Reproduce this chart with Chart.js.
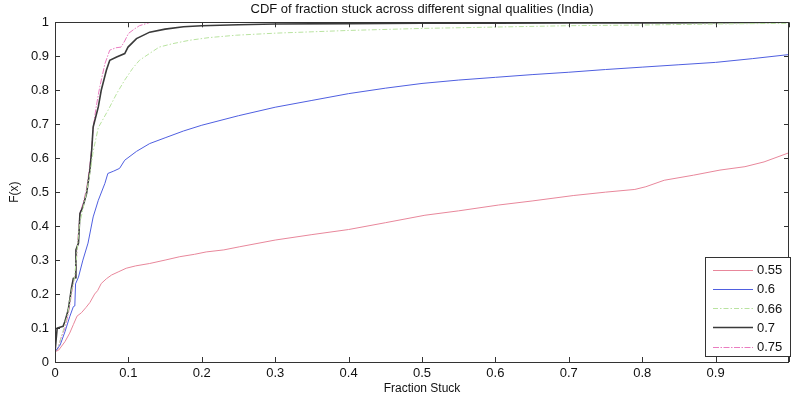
<!DOCTYPE html>
<html>
<head>
<meta charset="utf-8">
<script src="https://cdn.jsdelivr.net/npm/chart.js@4/dist/chart.umd.min.js"></script>
<style>
  html, body { margin: 0; padding: 0; background: #fff; overflow: hidden; }
  #wrap { width: 793px; height: 398px; }
</style>
</head>
<body>
<div id="wrap"><canvas id="cdf" width="793" height="398"></canvas></div>
<script>
// Empirical CDFs of the fraction of time stuck, one per signal-quality threshold
const seriesLabels = ['0.55', '0.6', '0.66', '0.7', '0.75'];

const x055 = [0, 0.005, 0.0136, 0.02, 0.025, 0.03, 0.036, 0.042, 0.0475, 0.054, 0.058, 0.063, 0.07, 0.077, 0.087, 0.097, 0.11, 0.129, 0.15, 0.17, 0.19, 0.206, 0.23, 0.251, 0.3, 0.35, 0.4, 0.45, 0.504, 0.55, 0.604, 0.65, 0.706, 0.75, 0.79, 0.805, 0.83, 0.87, 0.906, 0.94, 0.966, 1.0];
const f055 = [0.03, 0.035, 0.06, 0.085, 0.11, 0.135, 0.145, 0.16, 0.175, 0.20, 0.21, 0.231, 0.245, 0.256, 0.266, 0.276, 0.283, 0.29, 0.30, 0.31, 0.317, 0.324, 0.33, 0.339, 0.359, 0.375, 0.39, 0.41, 0.432, 0.445, 0.462, 0.474, 0.49, 0.50, 0.508, 0.516, 0.535, 0.55, 0.565, 0.575, 0.589, 0.616];

const x060 = [0, 0.007, 0.0136, 0.02, 0.025, 0.027, 0.028, 0.032, 0.038, 0.045, 0.052, 0.059, 0.068, 0.072, 0.08, 0.088, 0.095, 0.111, 0.129, 0.15, 0.175, 0.2, 0.25, 0.3, 0.35, 0.4, 0.45, 0.5, 0.55, 0.6, 0.65, 0.7, 0.75, 0.8, 0.85, 0.9, 0.95, 1.0];
const f060 = [0.03, 0.05, 0.089, 0.133, 0.163, 0.165, 0.23, 0.25, 0.30, 0.35, 0.427, 0.476, 0.526, 0.555, 0.562, 0.57, 0.594, 0.62, 0.643, 0.66, 0.68, 0.697, 0.725, 0.75, 0.77, 0.79, 0.806, 0.82, 0.83, 0.838, 0.846, 0.853, 0.861, 0.868, 0.875, 0.882, 0.893, 0.905];

const x066 = [0, 0.004, 0.008, 0.0136, 0.018, 0.0226, 0.026, 0.029, 0.033, 0.038, 0.043, 0.048, 0.052, 0.059, 0.072, 0.084, 0.095, 0.106, 0.115, 0.13, 0.142, 0.16, 0.183, 0.21, 0.247, 0.3, 0.35, 0.4, 0.5, 0.6, 0.7, 0.8, 0.9, 1.0];
const f066 = [0.03, 0.04, 0.07, 0.11, 0.15, 0.21, 0.24, 0.30, 0.40, 0.45, 0.50, 0.56, 0.62, 0.69, 0.74, 0.79, 0.83, 0.865, 0.888, 0.91, 0.927, 0.937, 0.947, 0.955, 0.962, 0.968, 0.972, 0.976, 0.982, 0.986, 0.99, 0.992, 0.995, 0.997];

const x070 = [0, 0.003, 0.011, 0.0136, 0.018, 0.0226, 0.025, 0.028, 0.0285, 0.032, 0.034, 0.038, 0.043, 0.0475, 0.05, 0.052, 0.059, 0.063, 0.07, 0.0746, 0.084, 0.095, 0.0995, 0.111, 0.129, 0.15, 0.175, 0.2, 0.25, 0.3, 0.4, 0.5, 0.6, 0.7, 0.8, 0.9, 1.0];
const f070 = [0.03, 0.10, 0.105, 0.12, 0.153, 0.22, 0.246, 0.248, 0.33, 0.35, 0.437, 0.457, 0.496, 0.565, 0.624, 0.692, 0.751, 0.80, 0.859, 0.888, 0.898, 0.908, 0.927, 0.952, 0.971, 0.98, 0.987, 0.99, 0.993, 0.995, 0.996, 0.997, 0.997, 0.998, 0.998, 0.999, 1.0];

const x075 = [0, 0.004, 0.008, 0.0136, 0.018, 0.0226, 0.026, 0.028, 0.031, 0.034, 0.038, 0.043, 0.047, 0.05, 0.052, 0.056, 0.061, 0.068, 0.0746, 0.083, 0.09, 0.095, 0.10, 0.108, 0.115, 0.13, 0.2, 0.5, 1.0];
const f075 = [0.03, 0.04, 0.07, 0.10, 0.14, 0.20, 0.245, 0.26, 0.36, 0.44, 0.465, 0.51, 0.57, 0.63, 0.69, 0.75, 0.81, 0.878, 0.918, 0.925, 0.927, 0.945, 0.967, 0.98, 0.99, 1.0, 1.0, 1.0, 1.0];

const xTickValues = [0, 0.1, 0.2, 0.3, 0.4, 0.5, 0.6, 0.7, 0.8, 0.9, 1];
const yTickValues = [0, 0.1, 0.2, 0.3, 0.4, 0.5, 0.6, 0.7, 0.8, 0.9, 1];

const FONT = '"Liberation Sans", Arial, Helvetica, sans-serif';

const pairs = (xs, ys) => xs.map((x, i) => ({ x: x, y: ys[i] }));

const styles = [
  { color: '#e8879b', width: 1.0, dash: [] },
  { color: '#4f5fe0', width: 1.0, dash: [] },
  { color: '#b9e3a0', width: 1.0, dash: [5, 2, 1.5, 2] },
  { color: '#3a3a3a', width: 1.6, dash: [] },
  { color: '#ea7cc0', width: 1.0, dash: [6, 1.5, 1.5, 1.5] }
];
const xs = [x055, x060, x066, x070, x075];
const fs = [f055, f060, f066, f070, f075];

const datasets = seriesLabels.map((lab, i) => ({
  label: lab,
  data: pairs(xs[i], fs[i]),
  borderColor: styles[i].color,
  backgroundColor: styles[i].color,
  borderWidth: styles[i].width,
  borderDash: styles[i].dash,
  pointRadius: 0,
  tension: 0,
  fill: false
}));

// axes box, inward tick marks and an in-plot legend
const boxPlugin = {
  id: 'matlabBox',
  afterDatasetsDraw(chart) {
    const { ctx, chartArea: a, scales } = chart;
    ctx.save();
    ctx.strokeStyle = '#333';
    ctx.lineWidth = 1;
    ctx.setLineDash([]);
    ctx.strokeRect(Math.round(a.left) + 0.5, Math.round(a.top) + 0.5,
                   Math.round(a.right - a.left) - 1, Math.round(a.bottom - a.top));
    const tl = 5;
    ctx.beginPath();
    xTickValues.forEach(v => {
      const px = Math.round(scales.x.getPixelForValue(v)) + 0.5;
      ctx.moveTo(px, a.bottom); ctx.lineTo(px, a.bottom - tl);
      ctx.moveTo(px, a.top); ctx.lineTo(px, a.top + tl);
    });
    yTickValues.forEach(v => {
      const py = Math.round(scales.y.getPixelForValue(v)) + 0.5;
      ctx.moveTo(a.left, py); ctx.lineTo(a.left + tl, py);
      ctx.moveTo(a.right, py); ctx.lineTo(a.right - tl, py);
    });
    ctx.stroke();

    // legend
    const lx = 705, ly = 257, lw = 85, lh = 99;
    ctx.fillStyle = '#fff';
    ctx.fillRect(lx, ly, lw, lh);
    ctx.strokeStyle = '#333';
    ctx.strokeRect(lx + 0.5, ly + 0.5, lw, lh);
    ctx.font = '13px ' + FONT;
    ctx.textBaseline = 'middle';
    ctx.textAlign = 'left';
    chart.data.datasets.forEach((ds, i) => {
      const y = ly + 12.5 + i * 19.3;
      ctx.beginPath();
      ctx.strokeStyle = ds.borderColor;
      ctx.lineWidth = ds.borderWidth;
      ctx.setLineDash(ds.borderDash);
      ctx.moveTo(713, Math.round(y) + 0.5);
      ctx.lineTo(753, Math.round(y) + 0.5);
      ctx.stroke();
      ctx.fillStyle = '#111';
      ctx.fillText(ds.label, 757, y + 1);
    });
    ctx.restore();
  }
};

new Chart(document.getElementById('cdf'), {
  type: 'line',
  data: { datasets: datasets },
  options: {
    responsive: false,
    animation: false,
    devicePixelRatio: 1,
    parsing: false,
    layout: { padding: { left: 0, right: 1, top: 0, bottom: 0 } },
    plugins: {
      legend: { display: false },
      tooltip: { enabled: false },
      title: {
        display: true,
        fullSize: false,
        text: 'CDF of fraction stuck across different signal qualities (India)',
        color: '#111',
        font: { family: FONT, size: 13, weight: 'normal', lineHeight: 1.1 },
        padding: { top: 2, bottom: 6 }
      }
    },
    scales: {
      x: {
        type: 'linear',
        min: 0, max: 1,
        afterBuildTicks(scale) { scale.ticks = xTickValues.map(v => ({ value: v })); },
        afterFit(scale) { scale.height = 36; },
        grid: { display: false, drawTicks: false },
        border: { display: false },
        ticks: {
          color: '#111',
          padding: 4,
          maxRotation: 0,
          font: { family: FONT, size: 13 },
          callback: v => (v >= 1 ? '' : String(Math.round(v * 10) / 10))
        },
        title: {
          display: true, text: 'Fraction Stuck', color: '#111',
          font: { family: FONT, size: 12 },
          padding: { top: 0, bottom: 2 }
        }
      },
      y: {
        type: 'linear',
        min: 0, max: 1,
        afterBuildTicks(scale) { scale.ticks = yTickValues.map(v => ({ value: v })); },
        afterFit(scale) { scale.width = 55; },
        grid: { display: false, drawTicks: false },
        border: { display: false },
        ticks: {
          color: '#111',
          padding: 6,
          font: { family: FONT, size: 13 },
          callback: v => String(Math.round(v * 10) / 10)
        },
        title: {
          display: true, text: 'F(x)', color: '#111',
          font: { family: FONT, size: 12 },
          padding: { top: 7, bottom: 0 }
        }
      }
    }
  },
  plugins: [boxPlugin]
});
</script>
</body>
</html>
